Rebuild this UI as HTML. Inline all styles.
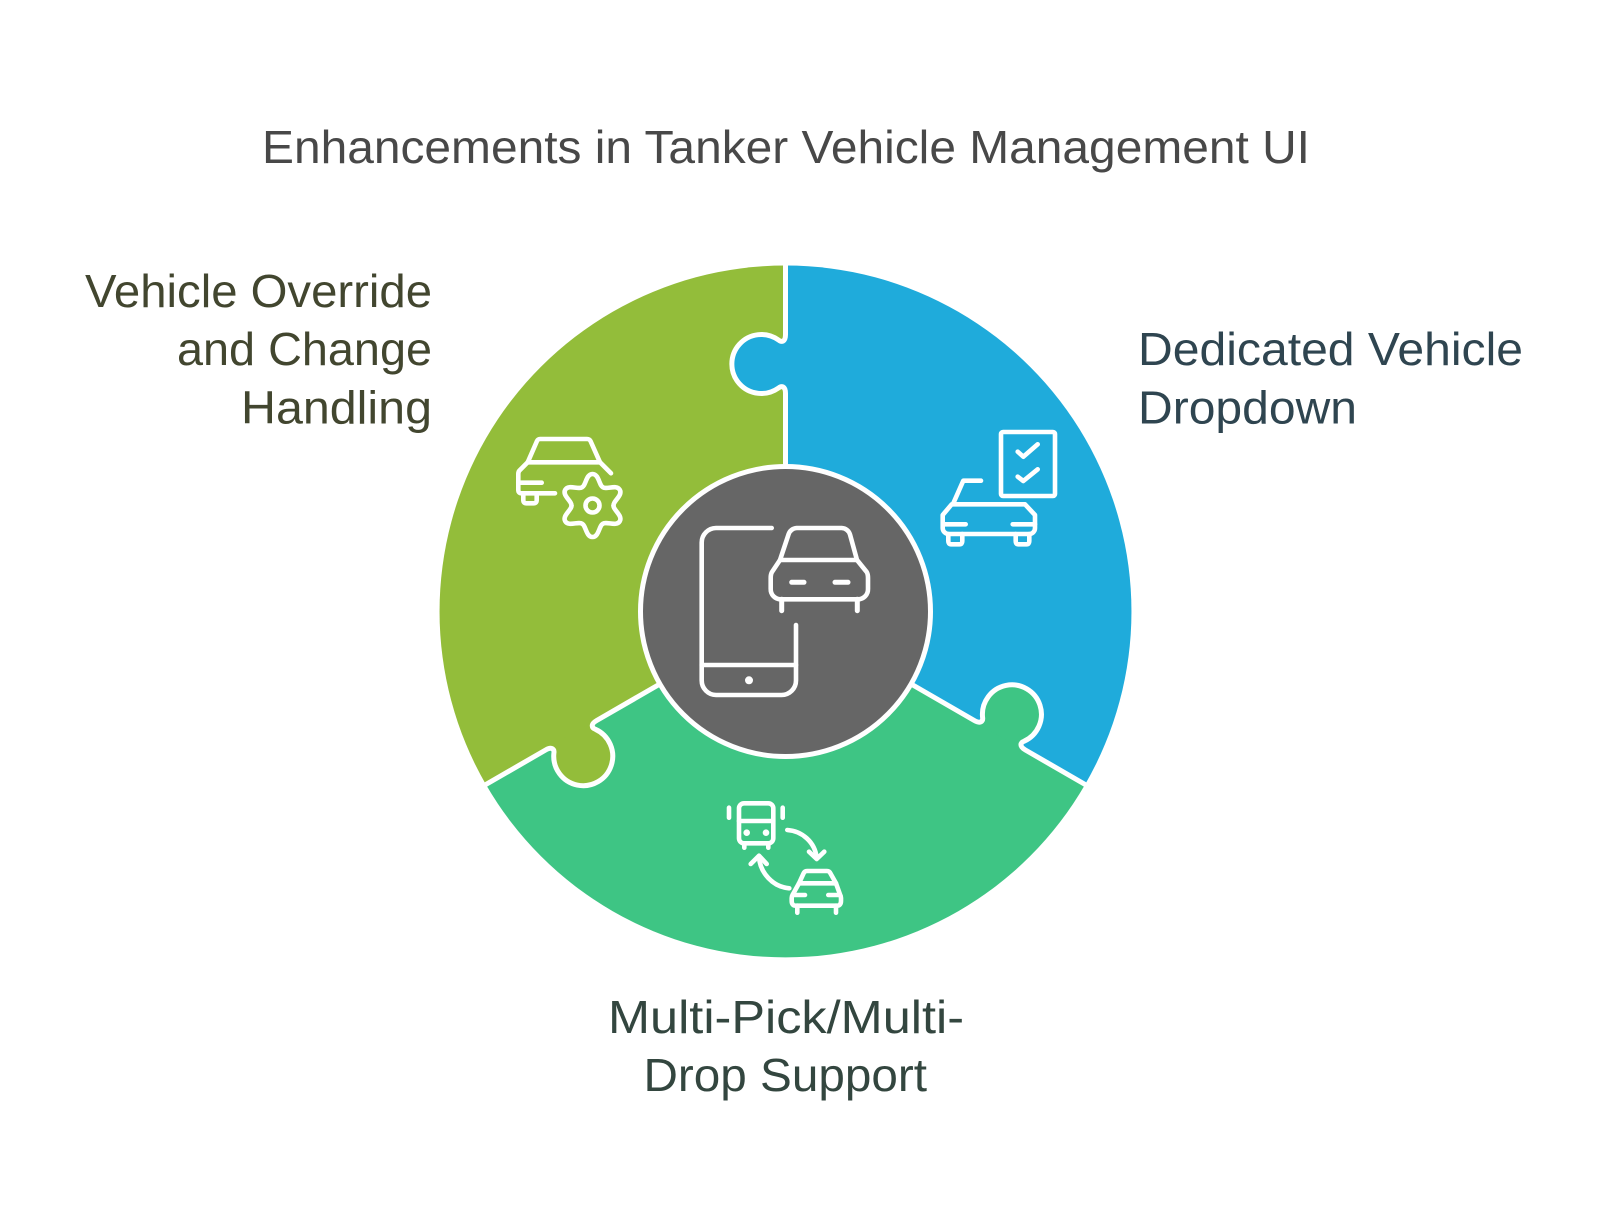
<!DOCTYPE html>
<html>
<head>
<meta charset="utf-8">
<style>
html,body{margin:0;padding:0;background:#fff;width:1600px;height:1223px;overflow:hidden}
svg{display:block}
text{font-family:"Liberation Sans",sans-serif;font-size:46px}
.w{fill:none;stroke:#fff;stroke-linecap:round;stroke-linejoin:round}
</style>
</head>
<body>
<svg width="1600" height="1223" viewBox="0 0 1600 1223" xmlns="http://www.w3.org/2000/svg">
<rect width="1600" height="1223" fill="#fff"/>

<text x="262" y="163" fill="#484848" textLength="1048" lengthAdjust="spacingAndGlyphs">Enhancements in Tanker Vehicle Management UI</text>

<text x="85" y="307" fill="#42462f" textLength="347" lengthAdjust="spacingAndGlyphs">Vehicle Override</text>
<text x="177" y="365" fill="#42462f" textLength="255" lengthAdjust="spacingAndGlyphs">and Change</text>
<text x="241" y="423.5" fill="#42462f" textLength="191" lengthAdjust="spacingAndGlyphs">Handling</text>

<text x="1138" y="365" fill="#2f4550" textLength="385" lengthAdjust="spacingAndGlyphs">Dedicated Vehicle</text>
<text x="1138" y="423.5" fill="#2f4550" textLength="219" lengthAdjust="spacingAndGlyphs">Dropdown</text>

<text x="608" y="1033" fill="#33463f" textLength="356" lengthAdjust="spacingAndGlyphs">Multi-Pick/Multi-</text>
<text x="643.5" y="1091" fill="#33463f" textLength="283.5" lengthAdjust="spacingAndGlyphs">Drop Support</text>

<g transform="translate(785.5 611.5)">
  <!-- sectors -->
  <path d="M0,0 L0,-346 A346,346 0 0 1 299.6,173 Z" fill="#1fabdb"/>
  <path d="M0,0 L299.6,173 A346,346 0 0 1 -299.6,173 Z" fill="#3ec584"/>
  <path d="M0,0 L-299.6,173 A346,346 0 0 1 0,-346 Z" fill="#93bd3a"/>
  <!-- tabs -->
  <path d="M1,-277 C0,-269.5 -4,-269 -7,-271.5 A29.5,29.5 0 1 0 -7,-223.5 C-4,-226 0,-225.5 1,-218 Z" fill="#1fabdb"/>
  <path transform="rotate(120)" d="M1,-277 C0,-269.5 -4,-269 -7,-271.5 A29.5,29.5 0 1 0 -7,-223.5 C-4,-226 0,-225.5 1,-218 Z" fill="#3ec584"/>
  <path transform="rotate(240)" d="M1,-277 C0,-269.5 -4,-269 -7,-271.5 A29.5,29.5 0 1 0 -7,-223.5 C-4,-226 0,-225.5 1,-218 Z" fill="#93bd3a"/>
  <!-- dividers -->
  <path d="M0,-347 V-277 C0,-269.5 -4,-269 -7,-271.5 A29.5,29.5 0 1 0 -7,-223.5 C-4,-226 0,-225.5 0,-218 V-140" fill="none" stroke="#fff" stroke-width="5"/>
  <path transform="rotate(120)" d="M0,-347 V-277 C0,-269.5 -4,-269 -7,-271.5 A29.5,29.5 0 1 0 -7,-223.5 C-4,-226 0,-225.5 0,-218 V-140" fill="none" stroke="#fff" stroke-width="5"/>
  <path transform="rotate(240)" d="M0,-347 V-277 C0,-269.5 -4,-269 -7,-271.5 A29.5,29.5 0 1 0 -7,-223.5 C-4,-226 0,-225.5 0,-218 V-140" fill="none" stroke="#fff" stroke-width="5"/>
  <circle r="145" fill="#666666" stroke="#fff" stroke-width="5"/>
</g>

<!-- center icon -->
<g class="w" stroke-width="4.6">
  <path d="M771.7,528 H716 A14.5,14.5 0 0 0 701.7,542.5 V680.5 A14.5,14.5 0 0 0 716,695 H781.5 A14.5,14.5 0 0 0 796,680.5 V625"/>
  <path d="M701.7,665 H796"/>
  <path d="M796.7,528 H841.7 A9,9 0 0 1 850,534.5 L857,560 H780 L788.5,534.5 A9,9 0 0 1 796.7,528 Z" />
  <path d="M780,560 L772,572 Q770.7,574 770.7,578 V589 A10,10 0 0 0 780.7,599.3 H858 A10,10 0 0 0 868,589 V578 Q868,574 866.7,572 L857,560"/>
  <path d="M791.7,582.3 H804 M835,582.3 H848 M781.7,599.3 V610.7 M857.3,599.3 V610.7" stroke-width="5"/>
  <circle cx="749" cy="680.3" r="4" fill="#fff" stroke="none"/>
</g>

<!-- blue icon -->
<g class="w" stroke-width="4.6">
  <rect x="1001" y="432" width="54" height="64" rx="2"/>
  <path d="M1017.7,451.7 L1023.3,456.7 L1037.7,444.3 M1017.7,476.7 L1023.3,481 L1037.7,469.3"/>
  <path d="M981,480.7 H963.3 L953.3,503.3"/>
  <path d="M951.7,504.3 H1025 L1035,515 V528 A6,6 0 0 1 1030,534 H948.3 A6,6 0 0 1 942.7,528 V515 Z"/>
  <path d="M943,524.3 H965.7 M1012.7,524.3 H1035"/>
  <path d="M948.3,534 V541 Q948.3,544.3 951,544.3 H959.5 Q962.3,544.3 962.3,541 V534 M1015.7,534 V541 Q1015.7,544.3 1018,544.3 H1026.5 Q1029.3,544.3 1029.3,541 V534"/>
</g>

<!-- olive icon -->
<g class="w" stroke-width="4.6">
  <path d="M527.7,462.3 L537,441 Q538,439 540,439 H587 Q589.5,439 590.5,441 L600,462.3"/>
  <path d="M527.7,462.3 H600 L611,473.3"/>
  <path d="M527.7,462.3 L519.5,470.5 Q518.3,471.7 518.3,474 V490 Q518.3,493.3 521.7,493.3 H555"/>
  <path d="M518.3,482.7 H541.7"/>
  <path d="M523.3,493.3 V500 Q523.3,503.3 526.5,503.3 H533.5 Q536.7,503.3 536.7,500 V493.3"/>
  <circle cx="592.5" cy="505.5" r="7"/>
  <g transform="translate(592.5 505.5)">
    <path d="M-10.5,-18.2 C-6.5,-20 -6.5,-31.5 0,-31.5 C6.5,-31.5 6.5,-20 10.5,-18.2"/>
    <path transform="rotate(60)" d="M-10.5,-18.2 C-6.5,-20 -6.5,-31.5 0,-31.5 C6.5,-31.5 6.5,-20 10.5,-18.2"/>
    <path transform="rotate(120)" d="M-10.5,-18.2 C-6.5,-20 -6.5,-31.5 0,-31.5 C6.5,-31.5 6.5,-20 10.5,-18.2"/>
    <path transform="rotate(180)" d="M-10.5,-18.2 C-6.5,-20 -6.5,-31.5 0,-31.5 C6.5,-31.5 6.5,-20 10.5,-18.2"/>
    <path transform="rotate(240)" d="M-10.5,-18.2 C-6.5,-20 -6.5,-31.5 0,-31.5 C6.5,-31.5 6.5,-20 10.5,-18.2"/>
    <path transform="rotate(300)" d="M-10.5,-18.2 C-6.5,-20 -6.5,-31.5 0,-31.5 C6.5,-31.5 6.5,-20 10.5,-18.2"/>
  </g>
</g>

<!-- green icon -->
<g class="w" stroke-width="4.6">
  <rect x="739" y="803.3" width="34.3" height="40" rx="5"/>
  <path d="M739,821 H773.3"/>
  <path d="M744.3,843.3 V847.7 M768.3,843.3 V847.7"/>
  <path d="M729,807.7 V817.7 M782.7,807.7 V817.7"/>
  <circle cx="746.7" cy="832.7" r="3.3" fill="#fff" stroke="none"/>
  <circle cx="766" cy="832.7" r="3.3" fill="#fff" stroke="none"/>
  <path d="M787.3,830 C802,831 815,842 816.7,858"/>
  <path d="M809,851.7 L816.7,859 L824.3,851.7"/>
  <path d="M789.3,888.3 C773,887 760,873 759,856.7"/>
  <path d="M750.7,864 L759,855.7 L766.7,864"/>
  <path d="M799,883.3 L803.5,873.5 Q804.5,871 807,871 H827 Q829.5,871 830.5,873.5 L836,883.3 Z"/>
  <path d="M799,883.3 L792.5,895 Q791.7,896.3 791.7,898 V901 Q791.7,905.7 796,905.7 H836.7 Q841,905.7 841,901 V898 Q841,896.3 840.2,895 L836,883.3"/>
  <path d="M793.3,895 H805 M828.3,895 H840 M797.3,905.7 V912.7 M836,905.7 V912.7"/>
</g>
</svg>
</body>
</html>
